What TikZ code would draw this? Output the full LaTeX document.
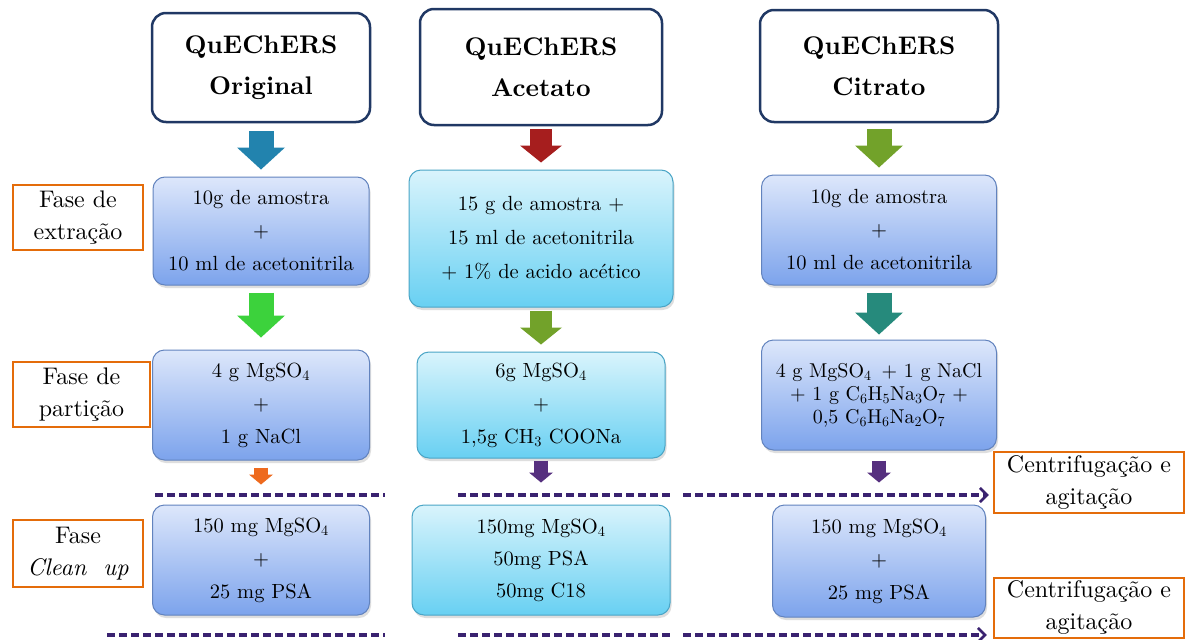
\documentclass[tikz,border=0pt]{standalone}
\usepackage{fontspec}
\setmainfont{lmroman10}[Extension=.otf, UprightFont=*-regular, BoldFont=*-bold,
  ItalicFont=*-italic, BoldItalicFont=*-bolditalic]
\usetikzlibrary{arrows.meta, shadows}
\definecolor{cNavy}{HTML}{203864}
\definecolor{cOrange}{HTML}{E46C0A}
\definecolor{cDash}{HTML}{3A2270}
\definecolor{cBlueTop}{HTML}{DDE7FB}
\definecolor{cBlueBot}{HTML}{7CA3EC}
\definecolor{cBlueLine}{HTML}{6283BE}
\definecolor{cCyanTop}{HTML}{D9F4FC}
\definecolor{cCyanBot}{HTML}{68D0F2}
\definecolor{cCyanLine}{HTML}{4AA5C6}
\definecolor{cTeal}{HTML}{2283AE}
\definecolor{cRed}{HTML}{A61E1E}
\definecolor{cOlive}{HTML}{72A22A}
\definecolor{cGreen}{HTML}{3CD23C}
\definecolor{cSea}{HTML}{268A7C}
\definecolor{cTang}{HTML}{EE6A1E}
\definecolor{cPurple}{HTML}{56307F}
\tikzset{
  titlebox/.style={draw=cNavy, line width=2.5pt, rounded corners=14pt, fill=white,
    align=center, inner sep=0pt, font=\fontsize{25.5}{41}\selectfont\bfseries},
  stepbox/.style={rounded corners=12pt, line width=1pt, align=center, inner sep=0pt,
    font=\fontsize{20.5}{33}\selectfont,
    drop shadow={shadow xshift=1.5pt, shadow yshift=-3pt, fill=black!25}},
  bluebox/.style={stepbox, draw=cBlueLine, top color=cBlueTop, bottom color=cBlueBot},
  cyanbox/.style={stepbox, draw=cCyanLine, top color=cCyanTop, bottom color=cCyanBot},
  phasebox/.style={draw=cOrange, line width=2.5pt, fill=white, align=center,
    inner sep=0pt, font=\fontsize{24}{32}\selectfont},
  bigflow/.style={line width=25pt, -{Triangle[length=22pt, width=48pt, line width=0pt]}},
  midflow/.style={line width=22pt, -{Triangle[length=17pt, width=42pt, line width=0pt]}},
  tinyflow/.style={line width=14pt, -{Triangle[length=10pt, width=24pt, line width=0pt]}},
  sepline/.style={draw=cDash, line width=3.5pt, dash pattern=on 8pt off 4pt},
  separrow/.style={sepline, -{Straight Barb[length=7pt, width=14pt, line width=2.5pt]}},
}
\begin{document}
\begin{tikzpicture}[x=1pt, y=-1pt]
  \useasboundingbox (0,0) rectangle (1187,640);
  \fill[white] (0,0) rectangle (1187,640);

  % ----------------------------------------------------------------
  % Method titles
  % ----------------------------------------------------------------
  \node[titlebox, minimum width=218pt, minimum height=109pt] (tOrig) at (261,67.5) {QuEChERS\\Original};
  \node[titlebox, minimum width=242pt, minimum height=116pt] (tAcet) at (541,67) {QuEChERS\\Acetato};
  \node[titlebox, minimum width=238pt, minimum height=112pt] (tCitr) at (879,66) {QuEChERS\\Citrato};

  % ----------------------------------------------------------------
  % Extraction step
  % ----------------------------------------------------------------
  \node[bluebox, minimum width=216pt, minimum height=108pt] (eOrig) at (261,231)
    {10g de amostra\\+\\10 ml de acetonitrila};
  \node[cyanbox, minimum width=264pt, minimum height=137pt, font=\fontsize{20.5}{34}\selectfont] (eAcet) at (541,238.5)
    {15 g de amostra +\\15 ml de acetonitrila\\+ 1\% de acido acético};
  \node[bluebox, minimum width=235pt, minimum height=110pt] (eCitr) at (879,230)
    {10g de amostra\\+\\10 ml de acetonitrila};

  % ----------------------------------------------------------------
  % Partition step
  % ----------------------------------------------------------------
  \node[bluebox, minimum width=217pt, minimum height=110pt] (pOrig) at (261,405)
    {4 g MgSO\textsubscript{4}\\+\\1 g NaCl};
  \node[cyanbox, minimum width=248pt, minimum height=106pt] (pAcet) at (541,405)
    {6g MgSO\textsubscript{4}\\+\\1,5g CH\textsubscript{3} COONa};
  \node[bluebox, minimum width=235pt, minimum height=110pt, font=\fontsize{20}{23}\selectfont] (pCitr) at (879,395)
    {4 g MgSO\textsubscript{4} \,+ 1 g NaCl\\+ 1 g C\textsubscript{6}H\textsubscript{5}Na\textsubscript{3}O\textsubscript{7} +\\0,5 C\textsubscript{6}H\textsubscript{6}Na\textsubscript{2}O\textsubscript{7}};

  % ----------------------------------------------------------------
  % Clean up step
  % ----------------------------------------------------------------
  \node[bluebox, minimum width=217pt, minimum height=110pt] (cOrig) at (261,560)
    {150 mg MgSO\textsubscript{4}\\+\\25 mg PSA};
  \node[cyanbox, minimum width=258pt, minimum height=110pt, font=\fontsize{20.5}{32}\selectfont] (cAcet) at (541,560)
    {150mg MgSO\textsubscript{4}\\50mg PSA\\50mg C18};
  \node[bluebox, minimum width=213pt, minimum height=112pt] (cCitr) at (879,561)
    {150 mg MgSO\textsubscript{4}\\+\\25 mg PSA};

  % ----------------------------------------------------------------
  % Phase labels (left) and centrifugation labels (right)
  % ----------------------------------------------------------------
  \node[phasebox, minimum width=130pt, minimum height=65pt] (lExtr) at (78,217.5) {Fase de\\extração};
  \node[phasebox, minimum width=137pt, minimum height=65pt] (lPart) at (81.5,394.5) {Fase de\\partição};
  \node[phasebox, minimum width=130pt, minimum height=67pt] (lClean) at (78,553.5) {Fase\\\textit{Clean~ up}};
  \node[phasebox, minimum width=190pt, minimum height=61pt] (rCent) at (1089,482.5) {Centrifugação e\\agitação};
  \node[phasebox, minimum width=190pt, minimum height=60pt] (rCentB) at (1089,608) {Centrifugação e\\agitação};

  % ----------------------------------------------------------------
  % Block arrows down each column
  % ----------------------------------------------------------------
  \draw[bigflow, cTeal, shorten <=8pt, shorten >=7pt] (tOrig) -- (eOrig);
  \draw[bigflow, cGreen, shorten <=7pt, shorten >=12pt] (eOrig) -- (pOrig);
  \draw[tinyflow, cTang, shorten <=7pt, shorten >=20pt] (pOrig) -- (cOrig);

  \draw[midflow, cRed, shorten <=3pt, shorten >=7pt] (tAcet) -- (eAcet);
  \draw[midflow, cOlive, shorten <=3pt, shorten >=7pt] (eAcet) -- (pAcet);
  \draw[tinyflow, cPurple, shorten <=2pt, shorten >=22pt] (pAcet) -- (cAcet);

  \draw[bigflow, cOlive, shorten <=6pt, shorten >=7pt] (tCitr) -- (eCitr);
  \draw[bigflow, cSea, shorten <=7pt, shorten >=5pt] (eCitr) -- (pCitr);
  \draw[tinyflow, cPurple, shorten <=10pt, shorten >=22pt] (pCitr) -- (cCitr);

  % ----------------------------------------------------------------
  % Dashed separators, ending on the centrifugation labels
  % ----------------------------------------------------------------
  \coordinate (sepA1) at (155,495);  \coordinate (sepA2) at (385,495);
  \coordinate (sepB1) at (458,495);  \coordinate (sepB2) at (672,495);
  \coordinate (sepC1) at (683,495);
  \draw[sepline] (sepA1) -- (sepA2);
  \draw[sepline] (sepB1) -- (sepB2);
  \draw[separrow, shorten >=4pt] (sepC1) -- (sepC1 -| rCent.west);

  \coordinate (lowA1) at (107,635);  \coordinate (lowA2) at (385,635);
  \coordinate (lowB1) at (458,635);  \coordinate (lowB2) at (672,635);
  \coordinate (lowC1) at (683,635);
  \draw[sepline] (lowA1) -- (lowA2);
  \draw[sepline] (lowB1) -- (lowB2);
  \draw[separrow, shorten >=6pt] (lowC1) -- (lowC1 -| rCentB.west);

\end{tikzpicture}
\end{document}
